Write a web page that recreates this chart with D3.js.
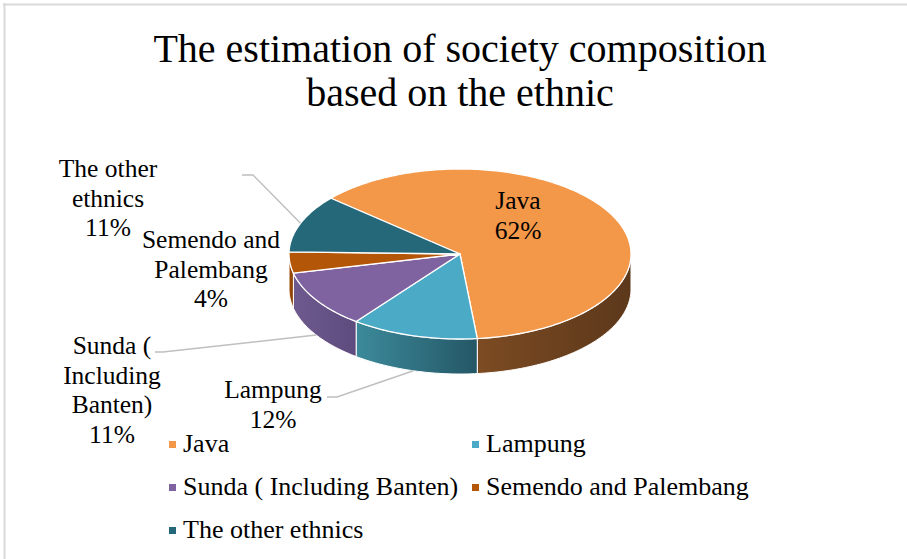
<!DOCTYPE html>
<html><head><meta charset="utf-8">
<script src="https://cdn.jsdelivr.net/npm/d3@7"></script>
<style>
body{margin:0;background:#fff}
svg{display:block}
</style>
</head><body>
<svg id="c" width="907" height="559" font-family="'Liberation Serif', 'Times New Roman', serif"></svg>
<script>
// ---- data ----
const categories = ["Java", "Lampung", "Sunda ( Including Banten)", "Semendo and Palembang", "The other ethnics"];
const values = [62, 12, 11, 4, 11];
const percentLabels = ["62%", "12%", "11%", "4%", "11%"];
const labelLines = [["Java"], ["Lampung"], ["Sunda (", "Including", "Banten)"], ["Semendo and", "Palembang"], ["The other", "ethnics"]];
const titleLines = ["The estimation of society composition", "based on the ethnic"];

// ---- styles / layout ----
const FONT = "'Liberation Serif', 'Times New Roman', serif";
const topColors = ["#F39748", "#4BAAC5", "#7F62A0", "#B45608", "#256879"];
const sideColors = [["#7C4B22", "#5C381B"], ["#3C8A9B", "#245766"], ["#6E5A8E", "#5E4B7E"], ["#9E4B08", "#8A4207"], ["#1E5666", "#1A4B59"]];
const labelPos = [[518, 209], [273, 398], [112, 354], [211, 248], [108, 177]];
const leaderStart = [null, [327, 397, 337], [155, 352, 163], null, [242, 175, 253]];
const leaderOnSide = [false, true, true, false, false];
const legendPos = [[0, 0], [1, 0], [0, 1], [1, 1], [0, 2]];

const W = 907, H = 559;
const cx = 460, cy = 254, rx = 171, ry = 85, depth = 35;
const startDeg = 311;
const fontSize = 25.5, legendFont = 26, lineH = 29.5;

const svg = d3.select("#c");
const defs = svg.append("defs");

// frame
svg.append("line").attr("x1", 3).attr("x2", W).attr("y1", 4.5).attr("y2", 4.5).attr("stroke", "#d9d9d9").attr("stroke-width", 2);
svg.append("line").attr("x1", 4.5).attr("x2", 4.5).attr("y1", 3).attr("y2", H).attr("stroke", "#d9d9d9").attr("stroke-width", 2);

// title
const title = svg.append("text").attr("text-anchor", "middle").attr("font-size", 40).attr("font-family", FONT).attr("fill", "#000");
titleLines.forEach((t, i) => title.append("tspan").attr("x", 460).attr("y", 62 + i * 44).text(t));

// pie
const rad = d => d * Math.PI / 180;
const pie = d3.pie().sort(null).value(d => d).startAngle(rad(startDeg)).endAngle(rad(startDeg + 360));
const arcs = pie(values);
const xS = d3.scaleLinear().domain([-1, 1]).range([cx - rx, cx + rx]);
const yS = d3.scaleLinear().domain([-1, 1]).range([cy - ry, cy + ry]);
const pt = (a, dy = 0) => [xS(Math.sin(a)), yS(-Math.cos(a)) + dy];
const samples = (a0, a1) => {
  const n = Math.max(2, Math.ceil(Math.abs(a1 - a0) / rad(1)));
  return d3.range(n + 1).map(i => a0 + (a1 - a0) * i / n);
};
const line = d3.line();

// sides (front half only)
const f0 = rad(450), f1 = rad(630);
const gSide = svg.append("g");
arcs.forEach((d, i) => {
  const a0 = Math.max(d.startAngle, f0), a1 = Math.min(d.endAngle, f1);
  if (a1 <= a0) return;
  const topPts = samples(a0, a1).map(a => pt(a));
  const botPts = samples(a1, a0).map(a => pt(a, depth));
  const gid = "sg" + i;
  const xa = pt(a0)[0], xb = pt(a1)[0];
  const g = defs.append("linearGradient").attr("id", gid).attr("gradientUnits", "userSpaceOnUse")
    .attr("x1", Math.min(xa, xb)).attr("x2", Math.max(xa, xb)).attr("y1", 0).attr("y2", 0);
  g.append("stop").attr("offset", 0).attr("stop-color", sideColors[i][0]);
  g.append("stop").attr("offset", 1).attr("stop-color", sideColors[i][1]);
  gSide.append("path").attr("d", line(topPts.concat(botPts)) + "Z")
    .attr("fill", `url(#${gid})`).attr("stroke", "#fff").attr("stroke-width", 1).attr("stroke-linejoin", "round");
});

// tops
const gTop = svg.append("g");
arcs.forEach((d, i) => {
  const pts = [[cx, cy]].concat(samples(d.startAngle, d.endAngle).map(a => pt(a)));
  gTop.append("path").attr("d", line(pts) + "Z")
    .attr("fill", topColors[i]).attr("stroke", "#fff").attr("stroke-width", 1.3).attr("stroke-linejoin", "round");
});

// leader lines
arcs.forEach((d, i) => {
  const s = leaderStart[i];
  if (!s) return;
  const mid = (d.startAngle + d.endAngle) / 2;
  const end = pt(mid, leaderOnSide[i] ? depth : 0);
  svg.append("path").attr("d", line([[s[0], s[1]], [s[2], s[1]], end]))
    .attr("fill", "none").attr("stroke", "#bfbfbf").attr("stroke-width", 1.5);
});

// data labels
arcs.forEach((d, i) => {
  const lines = labelLines[i].concat([percentLabels[i]]);
  const t = svg.append("text").attr("text-anchor", "middle").attr("font-size", fontSize).attr("font-family", FONT).attr("fill", "#000");
  lines.forEach((l, k) => t.append("tspan").attr("x", labelPos[i][0]).attr("y", labelPos[i][1] + k * lineH).text(l));
});

// legend
const colX = [169, 472], rowY = [452, 495, 538];
categories.forEach((c, i) => {
  const [col, row] = legendPos[i];
  const x = colX[col], y = rowY[row];
  svg.append("rect").attr("x", x).attr("y", y - 11).attr("width", 7).attr("height", 7).attr("fill", topColors[i]);
  svg.append("text").attr("x", x + 14).attr("y", y).attr("font-size", legendFont).attr("font-family", FONT).attr("fill", "#000").text(c);
});
</script>
</body></html>
